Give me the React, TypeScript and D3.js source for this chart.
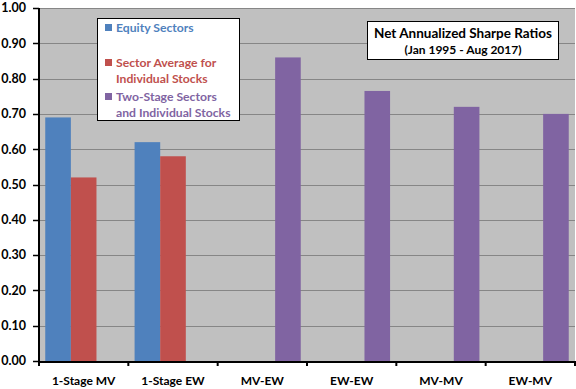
import { useEffect, useRef } from 'react'
import * as d3 from 'd3'

const categories = ['1-Stage MV', '1-Stage EW', 'MV-EW', 'EW-EW', 'MV-MV', 'EW-MV']
const seriesNames = ['Equity Sectors', 'Sector Average for Individual Stocks', 'Two-Stage Sectors and Individual Stocks']
const equitySectors = [0.69, 0.62, null, null, null, null]
const sectorAverage = [0.52, 0.58, null, null, null, null]
const twoStage = [null, null, 0.86, 0.765, 0.72, 0.70]
const yTicks = [0, 0.1, 0.2, 0.3, 0.4, 0.5, 0.6, 0.7, 0.8, 0.9, 1.0]
const colors = ['#4F81BD', '#C0504D', '#8064A2']
const legendLines = [['Equity Sectors'], ['Sector Average for', 'Individual Stocks'], ['Two-Stage Sectors', 'and Individual Stocks']]

const FONT = 'Lato, "Open Sans", sans-serif'

export default function App() {
  const svgRef = useRef<SVGSVGElement>(null)

  useEffect(() => {
    const width = 576
    const height = 389
    const margin = { top: 8, right: 1, bottom: 28, left: 39 }
    const innerW = width - margin.left - margin.right
    const innerH = height - margin.top - margin.bottom

    const svg = d3.select(svgRef.current)
    svg.selectAll('*').remove()
    svg.attr('width', width).attr('height', height)

    svg.append('rect').attr('width', width).attr('height', height).attr('fill', '#fff')

    const g = svg.append('g').attr('transform', `translate(${margin.left},${margin.top})`)

    const x = d3.scaleBand<string>().domain(categories).range([0, innerW]).padding(0)
    const bw = x.bandwidth()
    const x1 = d3.scaleBand<number>().domain([0, 1, 2]).range([bw * 0.07, bw * 0.93]).padding(0)
    const y = d3.scaleLinear().domain([0, 1]).range([innerH, 0])

    g.append('rect').attr('width', innerW).attr('height', innerH).attr('fill', '#C0C0C0')

    g.append('g')
      .selectAll('line')
      .data(yTicks.filter(d => d > 0))
      .join('line')
      .attr('x1', 0)
      .attr('x2', innerW)
      .attr('y1', d => Math.round(y(d)) + 0.5)
      .attr('y2', d => Math.round(y(d)) + 0.5)
      .attr('stroke', '#868686')
      .attr('stroke-width', 1)

    const series = [equitySectors, sectorAverage, twoStage]
    series.forEach((values, si) => {
      g.append('g')
        .selectAll('rect')
        .data(categories.map((c, i) => ({ c, v: values[i] })).filter(d => d.v != null))
        .join('rect')
        .attr('x', d => (x(d.c) ?? 0) + (x1(si) ?? 0))
        .attr('y', d => y(d.v as number))
        .attr('width', x1.bandwidth())
        .attr('height', d => innerH - y(d.v as number))
        .attr('fill', colors[si])
    })

    // axes
    g.append('line').attr('x1', 0).attr('x2', 0).attr('y1', 0).attr('y2', innerH + 1)
      .attr('stroke', '#000').attr('stroke-width', 2)
    g.append('line').attr('x1', -1).attr('x2', innerW).attr('y1', innerH + 1).attr('y2', innerH + 1)
      .attr('stroke', '#000').attr('stroke-width', 2)

    g.append('g')
      .selectAll('line')
      .data(yTicks)
      .join('line')
      .attr('x1', -6)
      .attr('x2', 0)
      .attr('y1', d => Math.round(y(d)) + 0.5)
      .attr('y2', d => Math.round(y(d)) + 0.5)
      .attr('stroke', '#000')
      .attr('stroke-width', 1.5)

    g.append('g')
      .selectAll('text')
      .data(yTicks)
      .join('text')
      .attr('x', -13)
      .attr('y', d => y(d))
      .attr('dy', '0.35em')
      .attr('text-anchor', 'end')
      .attr('font-family', FONT)
      .attr('font-weight', 'bold')
      .attr('font-size', 12.5)
      .attr('fill', '#000')
      .text(d => d3.format('.2f')(d))

    const xTickPos = categories.map(c => (x(c) ?? 0) + bw).concat([0])
    g.append('g')
      .selectAll('line')
      .data(xTickPos)
      .join('line')
      .attr('x1', d => d)
      .attr('x2', d => d)
      .attr('y1', innerH)
      .attr('y2', innerH + 5)
      .attr('stroke', '#000')
      .attr('stroke-width', 2)

    g.append('g')
      .selectAll('text')
      .data(categories)
      .join('text')
      .attr('x', d => (x(d) ?? 0) + bw / 2)
      .attr('y', innerH + 20)
      .attr('dy', '0.35em')
      .attr('text-anchor', 'middle')
      .attr('font-family', FONT)
      .attr('font-weight', 'bold')
      .attr('font-size', 12)
      .attr('fill', '#000')
      .text(d => d)

    // legend
    const legend = svg.append('g').attr('transform', 'translate(97,18)')
    legend.append('rect').attr('x', 0.5).attr('y', 0.5).attr('width', 142).attr('height', 102)
      .attr('fill', '#fff').attr('stroke', '#000').attr('stroke-width', 1)
    const rowY = [10, 45, 79]
    seriesNames.forEach((name, i) => {
      legend.append('rect').attr('x', 8).attr('y', rowY[i] - 4).attr('width', 7).attr('height', 7).attr('fill', colors[i])
      legendLines[i].forEach((line, j) => {
        legend.append('text')
          .attr('x', 19)
          .attr('y', rowY[i] + j * 15.5)
          .attr('dy', '0.35em')
          .attr('font-family', FONT)
          .attr('font-weight', 'bold')
          .attr('font-size', 12.2)
          .attr('fill', colors[i])
          .text(line)
      })
    })

    // title box
    const tb = svg.append('g').attr('transform', 'translate(367,21)')
    tb.append('rect').attr('x', 0.5).attr('y', 0.5).attr('width', 191).attr('height', 38)
      .attr('fill', '#fff').attr('stroke', '#000').attr('stroke-width', 1)
    tb.append('text').attr('x', 96).attr('y', 12.5).attr('dy', '0.35em').attr('text-anchor', 'middle')
      .attr('font-family', FONT).attr('font-weight', 'bold').attr('font-size', 13.5).attr('fill', '#000')
      .text('Net Annualized Sharpe Ratios')
    tb.append('text').attr('x', 96).attr('y', 29).attr('dy', '0.35em').attr('text-anchor', 'middle')
      .attr('font-family', FONT).attr('font-weight', 'bold').attr('font-size', 12).attr('fill', '#000')
      .text('(Jan 1995 - Aug 2017)')
  }, [])

  return (
    <div style={{ position: 'absolute', left: 0, top: 0 }}>
      <svg ref={svgRef} style={{ display: 'block' }} />
    </div>
  )
}
